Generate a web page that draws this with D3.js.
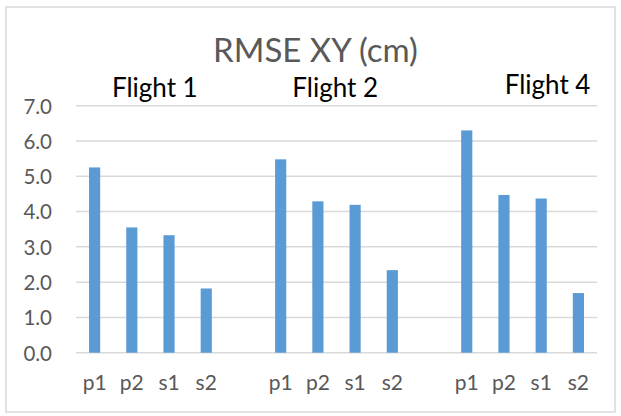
<!DOCTYPE html>
<html><head><meta charset="utf-8">
<script src="https://cdn.jsdelivr.net/npm/d3@7"></script>
<style>body{margin:0;background:#fff}svg{display:block}</style>
</head><body>
<script>
const flights = ["Flight 1", "Flight 2", "Flight 4"];
const methods = ["p1", "p2", "s1", "s2"];
const flight1 = [5.25, 3.55, 3.33, 1.82];
const flight2 = [5.48, 4.29, 4.19, 2.34];
const flight4 = [6.30, 4.47, 4.37, 1.69];
const yTicks = [0, 1, 2, 3, 4, 5, 6, 7];
const title = "RMSE XY (cm)";

const W = 621, H = 416;
const font = "Lato, 'Open Sans', sans-serif";
const svg = d3.select("body").append("svg").attr("width", W).attr("height", H);

svg.append("rect").attr("x", 6).attr("y", 7).attr("width", 609).attr("height", 405)
  .attr("fill", "#fff").attr("stroke", "#d9d9d9").attr("stroke-width", 1.5);

const series = [flight1, flight2, flight4];
const slots = [];
const bars = [];
series.forEach((vals, fi) => {
  vals.forEach((v, mi) => {
    const key = fi + "-" + methods[mi];
    slots.push(key);
    bars.push({key, v, label: methods[mi], fi});
  });
  if (fi < series.length - 1) slots.push("gap" + fi);
});

const pL = 76, pR = 597, pT = 105.7, pB = 352.7;
const x = d3.scaleBand().domain(slots).range([pL, pR]).paddingInner(0.7).paddingOuter(0.35);
const y = d3.scaleLinear().domain([0, 7]).range([pB, pT]);

svg.append("g").selectAll("line").data(yTicks).join("line")
  .attr("x1", pL).attr("x2", pR)
  .attr("y1", d => y(d)).attr("y2", d => y(d))
  .attr("stroke", "#d9d9d9").attr("stroke-width", 1.5);

const yAxis = d3.axisLeft(y).tickValues(yTicks).tickFormat(d3.format(".1f")).tickSize(0).tickPadding(0);
const gy = svg.append("g").attr("transform", `translate(${pL - 24},0)`).call(yAxis);
gy.select(".domain").remove();
gy.selectAll("text").attr("font-family", font).attr("font-size", 20.5).attr("fill", "#595959").attr("dy", "0.36em");

svg.append("g").selectAll("rect").data(bars).join("rect")
  .attr("x", d => x(d.key)).attr("width", x.bandwidth())
  .attr("y", d => y(d.v)).attr("height", d => y(0) - y(d.v))
  .attr("fill", "#5b9bd5");

const xAxis = d3.axisBottom(x).tickValues(bars.map(b => b.key))
  .tickFormat(k => k.split("-")[1]).tickSize(0).tickPadding(0);
const gx = svg.append("g").attr("transform", `translate(0,${pB})`).call(xAxis);
gx.select(".domain").remove();
gx.selectAll("text").attr("font-family", font).attr("font-size", 21).attr("fill", "#595959")
  .attr("y", 0).attr("dy", 0).attr("transform", "translate(0,37.5)");

svg.append("text").attr("x", 315.5).attr("y", 62).attr("text-anchor", "middle")
  .attr("font-family", font).attr("font-size", 33).attr("fill", "#595959").text(title);

const flightOffsets = [4.4, -1.3, 25];
const flightY = [97, 97, 93.5];
flights.forEach((f, fi) => {
  const c = (x(fi + "-p1") + x(fi + "-s2") + x.bandwidth()) / 2;
  svg.append("text").attr("x", c + flightOffsets[fi]).attr("y", flightY[fi])
    .attr("text-anchor", "middle").attr("font-family", font).attr("font-size", 26)
    .attr("fill", "#000").text(f);
});
</script>
</body></html>
